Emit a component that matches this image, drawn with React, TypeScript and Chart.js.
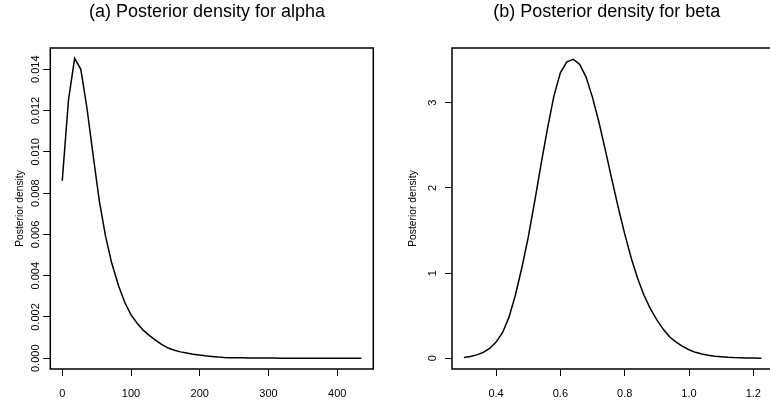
import React, { useEffect, useRef } from "react";
import { Chart, registerables } from "chart.js";

Chart.register(...registerables);

// ---------- data ----------
const alphaX = [0, 9, 18, 27, 36, 45, 54, 63, 72, 82, 91, 100, 109, 118, 127, 136, 145, 154, 163, 172, 181, 190, 199, 208, 217, 227, 236, 245, 254, 263, 272, 281, 290, 299, 308, 317, 326, 335, 344, 353, 362, 372, 381, 390, 399, 408, 417, 426, 435];
const alphaDensity = [0.0086, 0.0125, 0.01453, 0.014, 0.0121, 0.0098, 0.0076, 0.0059, 0.0046, 0.0035, 0.0027, 0.0021, 0.0017, 0.00135, 0.0011, 0.00087, 0.00066, 0.0005, 0.00039, 0.00031, 0.00025, 0.0002, 0.00016, 0.00012, 0.00009, 0.00006, 0.00004, 0.00003, 0.00002, 0.00002, 0.000015, 0.000012, 0.00001, 0.00001, 0.000008, 0.000006, 0.000005, 0.000004, 0.000003, 0.000003, 0.000002, 0.000003, 0.000002, 0.000002, 0.000002, 0.000002, 0.000002, 0.000002, 0.000002];
const alphaXTicks = [0, 100, 200, 300, 400];
const alphaYTicks = [0, 0.002, 0.004, 0.006, 0.008, 0.01, 0.012, 0.014];

const betaX = [0.30, 0.32, 0.34, 0.36, 0.38, 0.40, 0.42, 0.44, 0.46, 0.48, 0.50, 0.52, 0.54, 0.56, 0.58, 0.60, 0.62, 0.64, 0.66, 0.68, 0.70, 0.72, 0.74, 0.76, 0.78, 0.80, 0.82, 0.84, 0.86, 0.88, 0.90, 0.92, 0.94, 0.96, 0.98, 1.00, 1.02, 1.04, 1.06, 1.08, 1.10, 1.12, 1.14, 1.16, 1.18, 1.20, 1.225];
const betaDensity = [0.01, 0.02, 0.04, 0.07, 0.115, 0.19, 0.30, 0.48, 0.74, 1.06, 1.42, 1.84, 2.28, 2.70, 3.08, 3.35, 3.48, 3.51, 3.45, 3.30, 3.06, 2.77, 2.44, 2.10, 1.77, 1.46, 1.18, 0.94, 0.74, 0.58, 0.45, 0.34, 0.25, 0.19, 0.14, 0.10, 0.07, 0.05, 0.035, 0.025, 0.018, 0.012, 0.008, 0.006, 0.004, 0.003, 0.002];
const betaXTicks = [0.4, 0.6, 0.8, 1.0, 1.2];
const betaYTicks = [0, 1, 2, 3];

const titleA = "(a) Posterior density for alpha";
const titleB = "(b) Posterior density for beta";
const yTitle = "Posterior density";

const FONT = "'Liberation Sans', Arial, Helvetica, sans-serif";

const framePlugin = {
  id: "frame",
  afterDraw(chart: any, _args: any, opts: any) {
    const { ctx, chartArea: a } = chart;
    ctx.save();
    ctx.strokeStyle = "#000";
    ctx.lineWidth = 1.5;
    ctx.strokeRect(a.left, a.top, a.right - a.left, a.bottom - a.top);
    ctx.fillStyle = "#000";
    ctx.font = `18px ${FONT}`;
    ctx.textAlign = "center";
    ctx.textBaseline = "alphabetic";
    ctx.fillText(opts.title, opts.titleX, opts.titleY);
    ctx.restore();
  },
};

type PanelCfg = {
  xs: number[];
  ys: number[];
  xTicks: number[];
  yTicks: number[];
  xMin: number;
  xMax: number;
  yMin: number;
  yMax: number;
  yFmt: (v: number) => string;
  xFmt: (v: number) => string;
  canvasLeft: number;
  canvasWidth: number;
  areaLeft: number;
  areaRight: number;
  title: string;
  titleX: number;
  yTitlePad: number;
  yTickPad: number;
};

function Panel({ cfg }: { cfg: PanelCfg }) {
  const ref = useRef<HTMLCanvasElement | null>(null);
  useEffect(() => {
    if (!ref.current) return;
    const H = 402;
    const top = 48;
    const bottom = 369;
    const chart = new Chart(ref.current, {
      type: "line",
      data: {
        datasets: [
          {
            data: cfg.xs.map((x, i) => ({ x, y: cfg.ys[i] })),
            borderColor: "#000",
            borderWidth: 1.5,
            pointRadius: 0,
            tension: 0,
            fill: false,
          },
        ],
      },
      plugins: [framePlugin],
      options: {
        animation: false,
        responsive: false,
        devicePixelRatio: 1,
        layout: {
          padding: { top, left: 0, right: cfg.canvasWidth - cfg.areaRight, bottom: 0 },
        },
        plugins: {
          legend: { display: false },
          tooltip: { enabled: false },
          frame: { title: cfg.title, titleX: cfg.titleX, titleY: 17 },
        } as any,
        scales: {
          x: {
            type: "linear",
            min: cfg.xMin,
            max: cfg.xMax,
            afterBuildTicks: (s: any) => {
              s.ticks = cfg.xTicks.map((v) => ({ value: v }));
            },
            afterFit: (s: any) => {
              s.height = H - bottom;
            },
            border: { display: false },
            grid: { drawOnChartArea: false, drawTicks: true, tickLength: 7, color: "#000", tickColor: "#000", lineWidth: 1 },
            ticks: {
              color: "#000",
              font: { family: FONT, size: 11 },
              padding: 11,
              maxRotation: 0,
              autoSkip: false,
              callback: (v: any) => cfg.xFmt(Number(v)),
            },
          },
          y: {
            type: "linear",
            min: cfg.yMin,
            max: cfg.yMax,
            afterBuildTicks: (s: any) => {
              s.ticks = cfg.yTicks.map((v) => ({ value: v }));
            },
            afterFit: (s: any) => {
              s.width = cfg.areaLeft;
            },
            border: { display: false },
            grid: { drawOnChartArea: false, drawTicks: true, tickLength: 7, color: "#000", tickColor: "#000", lineWidth: 1 },
            title: {
              display: true,
              text: yTitle,
              color: "#000",
              font: { family: FONT, size: 10.3 },
              padding: { top: cfg.yTitlePad, bottom: 0 },
            },
            ticks: {
              color: "#000",
              font: { family: FONT, size: 11 },
              padding: cfg.yTickPad,
              minRotation: 90,
              maxRotation: 90,
              crossAlign: "center",
              autoSkip: false,
              callback: (v: any) => cfg.yFmt(Number(v)),
            },
          },
        },
      } as any,
    });
    return () => chart.destroy();
  }, [cfg]);
  return (
    <canvas
      ref={ref}
      width={cfg.canvasWidth}
      height={402}
      style={{ position: "absolute", left: cfg.canvasLeft, top: 0, width: cfg.canvasWidth, height: 402 }}
    />
  );
}

const cfgA: PanelCfg = {
  xs: alphaX,
  ys: alphaDensity,
  xTicks: alphaXTicks,
  yTicks: alphaYTicks,
  xMin: -17.4,
  xMax: 452.4,
  yMin: -0.00052,
  yMax: 0.01503,
  yFmt: (v) => v.toFixed(3),
  xFmt: (v) => String(v),
  canvasLeft: 0,
  canvasWidth: 385,
  areaLeft: 50.3,
  areaRight: 373.3,
  title: titleA,
  titleX: 207,
  yTitlePad: 14,
  yTickPad: -6.5,
};

const cfgB: PanelCfg = {
  xs: betaX,
  ys: betaDensity,
  xTicks: betaXTicks,
  yTicks: betaYTicks,
  xMin: 0.263,
  xMax: 1.263,
  yMin: -0.1256,
  yMax: 3.642,
  yFmt: (v) => String(v),
  xFmt: (v) => v.toFixed(1),
  canvasLeft: 385,
  canvasWidth: 392,
  areaLeft: 67,
  areaRight: 388.6,
  title: titleB,
  titleX: 221.7,
  yTitlePad: 21.5,
  yTickPad: 9.1,
};

export default function App() {
  return (
    <div
      style={{
        position: "fixed",
        left: 0,
        top: 0,
        width: 770,
        height: 402,
        overflow: "hidden",
        background: "#fff",
      }}
    >
      <Panel cfg={cfgA} />
      <Panel cfg={cfgB} />
    </div>
  );
}
